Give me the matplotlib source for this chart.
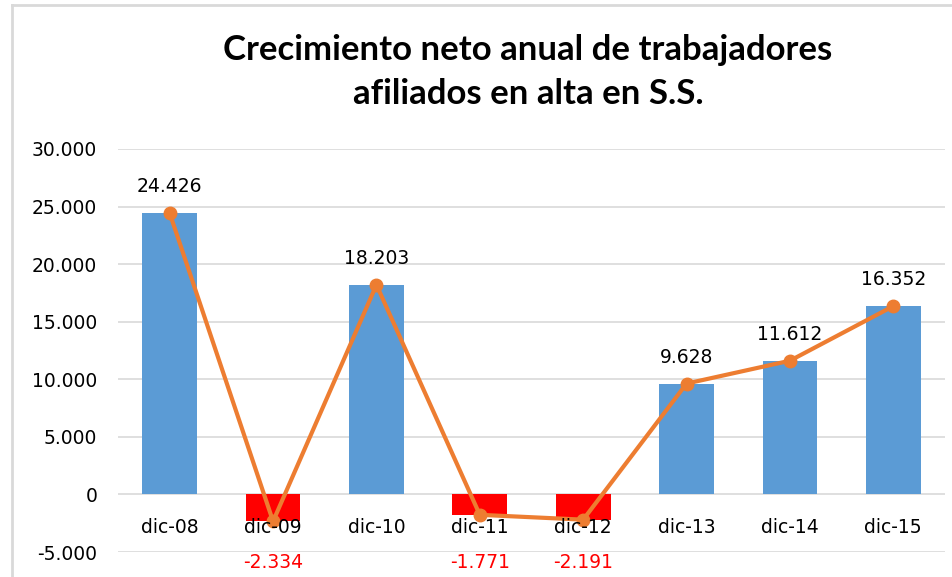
import matplotlib
matplotlib.use("Agg")
import matplotlib.pyplot as plt
from matplotlib.lines import Line2D
from matplotlib.ticker import FuncFormatter

categories = ["dic-08", "dic-09", "dic-10", "dic-11", "dic-12", "dic-13", "dic-14", "dic-15"]
values = [24426, -2334, 18203, -1771, -2191, 9628, 11612, 16352]
yticks = [-5000, 0, 5000, 10000, 15000, 20000, 25000, 30000]
title = "Crecimiento neto anual de trabajadores\nafiliados en alta en S.S."

def fmt(v):
    s = f"{abs(int(v)):,}".replace(",", ".")
    return ("-" if v < 0 else "") + s

W, H = 953, 577
fig = plt.figure(figsize=(W / 100, H / 100), dpi=100)
fig.patch.set_facecolor("white")

# outer chart border (light grey)
fig.add_artist(Line2D([12 / W, 1], [1 - 5 / H, 1 - 5 / H], color="#d9d9d9", lw=2, transform=fig.transFigure))
fig.add_artist(Line2D([12.5 / W, 12.5 / W], [0, 1 - 5 / H], color="#d9d9d9", lw=2, transform=fig.transFigure))

left, right = 118 / W, 945 / W
bottom, top = (H - 552) / H, (H - 149) / H
ax = fig.add_axes([left, bottom, right - left, top - bottom])

x = list(range(len(categories)))
colors = ["#5B9BD5" if v >= 0 else "#FF0000" for v in values]
ax.bar(x, values, width=0.53, color=colors, zorder=2)
ax.plot(x, values, color="#ED7D31", lw=3, marker="o", markersize=9, zorder=3)

ax.set_xlim(-0.5, len(categories) - 0.5)
ax.set_ylim(-5000, 30000)
ax.set_yticks(yticks)
ax.yaxis.set_major_formatter(FuncFormatter(lambda v, p: fmt(v)))
ax.yaxis.grid(True, color="#d9d9d9", lw=1.2, zorder=0)
ax.set_axisbelow(True)
for s in ax.spines.values():
    s.set_visible(False)
ax.tick_params(axis="y", length=0, pad=15, labelsize=13.5, labelcolor="#000000")
ax.set_xticks([])

for xi, cat in zip(x, categories):
    ax.text(xi, -2870, cat, ha="center", va="center", fontsize=13.5, color="black", zorder=4)

for xi, v in zip(x, values):
    if v >= 0:
        ax.annotate(fmt(v), (xi, v), xytext=(0, 19), textcoords="offset points",
                    ha="center", va="center", fontsize=13.5, color="black", zorder=4)
    else:
        ax.annotate(fmt(v), (xi, -5000), xytext=(0, -7.5), textcoords="offset points",
                    ha="center", va="center", fontsize=13.5, color="#FF0000", annotation_clip=False, zorder=4)

fig.text(528 / W, 1 - 72 / H, title, ha="center", va="center", fontsize=25, fontweight="bold",
         family=["Lato", "DejaVu Sans"], linespacing=1.45)

fig.savefig("out.png", dpi=100, facecolor="white")
